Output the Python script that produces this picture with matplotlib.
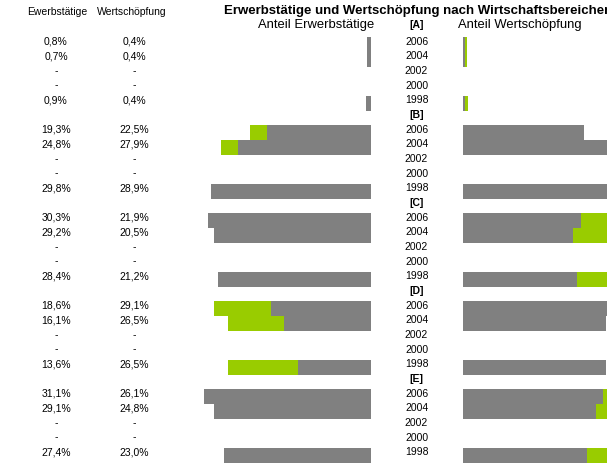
import numpy as np
import matplotlib
matplotlib.use("Agg")
import matplotlib.pyplot as plt
from matplotlib.transforms import blended_transform_factory

plt.rcParams["font.family"] = ["Liberation Sans", "DejaVu Sans"]

# Daten (Anteile in %), Reihenfolge der Jahre: 2006, 2004, 2002, 2000, 1998
sectors = ["[A]", "[B]", "[C]", "[D]", "[E]"]
years = ["2006", "2004", "2002", "2000", "1998"]
nan = np.nan
erwerbstaetige = [
    [0.8, 0.7, nan, nan, 0.9],
    [19.3, 24.8, nan, nan, 29.8],
    [30.3, 29.2, nan, nan, 28.4],
    [18.6, 16.1, nan, nan, 13.6],
    [31.1, 29.1, nan, nan, 27.4],
]
wertschoepfung = [
    [0.4, 0.4, nan, nan, 0.4],
    [22.5, 27.9, nan, nan, 28.9],
    [21.9, 20.5, nan, nan, 21.2],
    [29.1, 26.5, nan, nan, 26.5],
    [26.1, 24.8, nan, nan, 23.0],
]

GRAY = "#808080"
GREEN = "#99CC00"

W, H = 607, 464
fig = plt.figure(figsize=(W / 100, H / 100), dpi=100)

px_per_pct = 5.38
row_px = 14.667
row0_px = 30.83  # Mitte von Zeile 0 (Kopfzeile A), von oben
y_top = -row0_px / row_px
y_bot = (H - row0_px) / row_px

# linke Achse (Balken nach links), rechte Achse (Balken nach rechts)
l_left, l_right = 180, 371
r_left, r_right = 463, 607
ax_l = fig.add_axes([l_left / W, 0, (l_right - l_left) / W, 1])
ax_r = fig.add_axes([r_left / W, 0, (r_right - r_left) / W, 1])
ax_l.set_xlim((l_right - l_left) / px_per_pct, 0)
ax_r.set_xlim(0, (r_right - r_left) / px_per_pct)
for ax in (ax_l, ax_r):
    ax.set_ylim(y_bot, y_top)
    ax.axis("off")

tr = blended_transform_factory(fig.transFigure, ax_l.transData)
txt_off = -0.27


def fmt(v):
    if np.isnan(v):
        return "-"
    return f"{v:.1f}".replace(".", ",") + "%"


for i, sec in enumerate(sectors):
    head = i * 6
    ew = np.array(erwerbstaetige[i])
    ws = np.array(wertschoepfung[i])
    rows = head + 1 + np.arange(len(years))
    ok = ~np.isnan(ew)

    ax_l.barh(rows[ok], ws[ok], height=1.02, color=GREEN, lw=0)
    ax_l.barh(rows[ok], ew[ok], height=1.02, color=GRAY, lw=0)
    ax_r.barh(rows[ok], ew[ok], height=1.02, color=GREEN, lw=0)
    ax_r.barh(rows[ok], ws[ok], height=1.02, color=GRAY, lw=0)

    hy = head - 0.4 if i == 0 else head + txt_off
    fig.text(416.5 / W, hy, sec, transform=tr, ha="center", va="center",
             fontsize=7.5, fontweight="bold")
    for r, yr, a, b in zip(rows, years, ew, ws):
        fig.text(416.5 / W, r + txt_off, yr, transform=tr, ha="center",
                 va="center", fontsize=7.5)
        fig.text(56 / W, r + txt_off, fmt(a), transform=tr, ha="center",
                 va="center", fontsize=7.5)
        fig.text(134 / W, r + txt_off, fmt(b), transform=tr, ha="center",
                 va="center", fontsize=7.5)

hy = -0.4
fig.text(316.5 / W, hy, "Anteil Erwerbstätige", transform=tr, ha="center",
         va="center", fontsize=9.4)
fig.text(458 / W, hy, "Anteil Wertschöpfung", transform=tr, ha="left",
         va="center", fontsize=9.4)

fig.text(57 / W, 1 - 12.3 / H, "Ewerbstätige", ha="center", va="center",
         fontsize=7.5)
fig.text(132 / W, 1 - 12.3 / H, "Wertschöpfung", ha="center", va="center",
         fontsize=7.5)
fig.text(224 / W, 1 - 11 / H,
         "Erwerbstätige und Wertschöpfung nach Wirtschaftsbereichen",
         ha="left", va="center", fontsize=9.5, fontweight="bold")

fig.savefig("out.png", dpi=100)
